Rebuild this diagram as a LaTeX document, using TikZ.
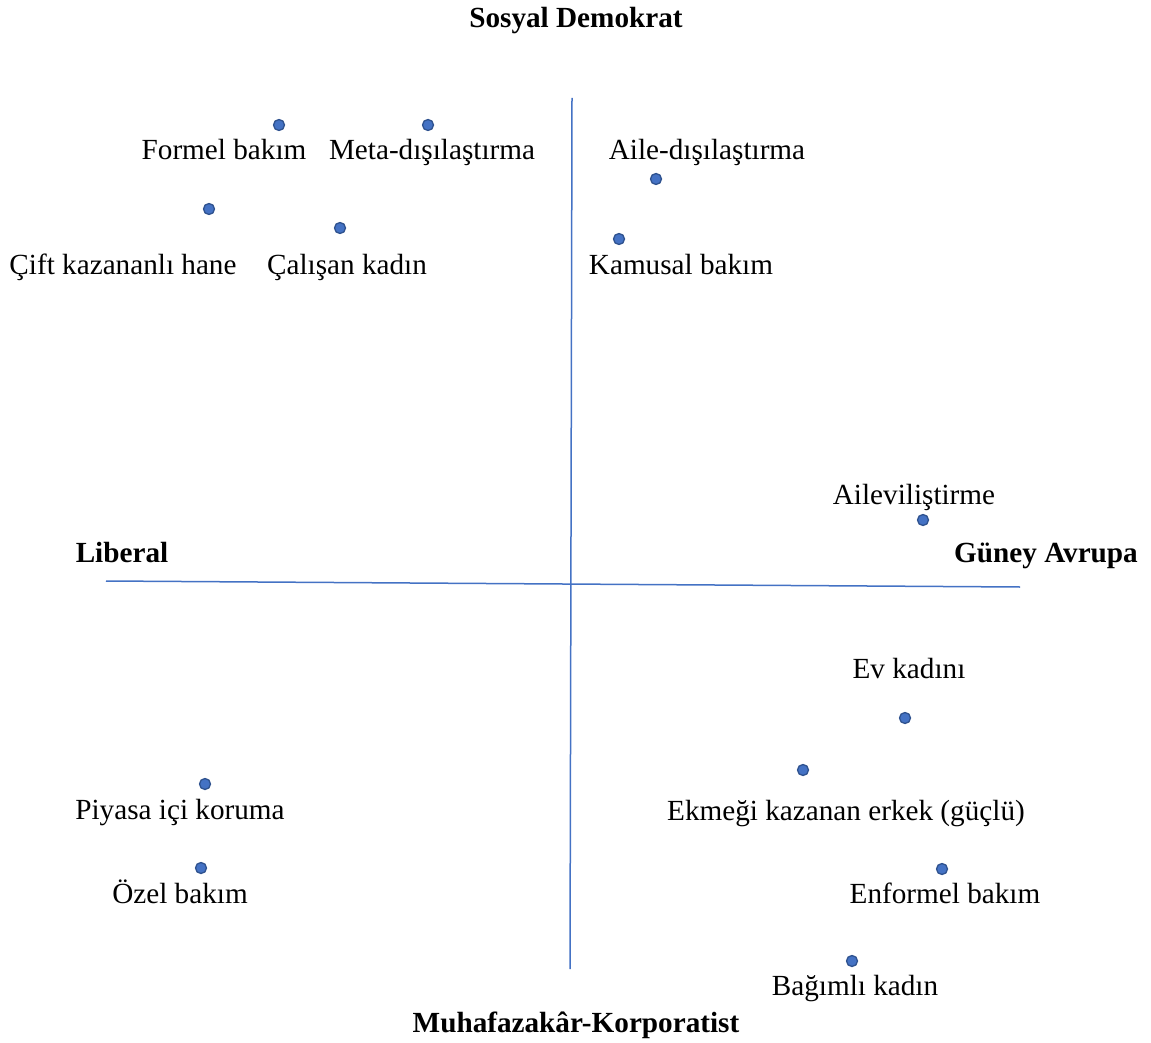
\documentclass[tikz,border=0pt]{standalone}
\usepackage{fontspec}
\setmainfont{Liberation Serif}
\definecolor{axisblue}{HTML}{4472C4}
\definecolor{dotfill}{HTML}{4472C4}
\definecolor{dotline}{HTML}{2F528F}
\begin{document}
\begin{tikzpicture}[x=1pt,y=-1pt,
  lbl/.style={anchor=base,inner sep=0pt,font=\fontsize{29.2}{34}\selectfont},
  axlbl/.style={anchor=base,inner sep=0pt,font=\fontsize{29.2}{34}\selectfont\bfseries},
  dot/.style={circle,fill=dotfill,draw=dotline,line width=1.3pt,minimum size=11pt,inner sep=0pt},
  axis/.style={draw=axisblue,line width=1.5pt}]
\useasboundingbox (0,0) rectangle (1151,1043);
% axes
\coordinate (hl) at (106,581);
\coordinate (hr) at (1020,587);
\coordinate (vt) at (572,98);
\coordinate (vb) at (570,969);
\draw[axis] (hl) -- (hr);
\draw[axis] (vt) -- (vb);
% axis labels
\node[axlbl] (sd) at (576,28) {Sosyal Demokrat};
\node[axlbl] (lib) at (122,562) {Liberal};
\node[axlbl] (ga) at (1046,562) {Güney Avrupa};
\node[axlbl] (mk) at (576,1032) {Muhafazakâr-Korporatist};
% dots
\node[dot] (d1) at (279,125) {};
\node[dot] (d2) at (428,125) {};
\node[dot] (d3) at (656,179) {};
\node[dot] (d4) at (209,209) {};
\node[dot] (d5) at (340,228) {};
\node[dot] (d6) at (619,239) {};
\node[dot] (d7) at (923,520) {};
\node[dot] (d8) at (905,718) {};
\node[dot] (d9) at (803,770) {};
\node[dot] (d10) at (205,784) {};
\node[dot] (d11) at (201,868) {};
\node[dot] (d12) at (942,869) {};
\node[dot] (d13) at (852,961) {};
% labels
\node[lbl] (l1) at (224,160) {Formel bakım};
\node[lbl] (l2) at (432,160) {Meta-dışılaştırma};
\node[lbl] (l3) at (707,160) {Aile-dışılaştırma};
\node[lbl] (l4) at (123,274) {Çift kazananlı hane};
\node[lbl] (l5) at (347,274) {Çalışan kadın};
\node[lbl] (l6) at (681,274) {Kamusal bakım};
\node[lbl] (l7) at (914,504) {Aileviliştirme};
\node[lbl] (l8) at (909,678) {Ev kadını};
\node[lbl] (l9) at (846,820) {Ekmeği kazanan erkek (güçlü)};
\node[lbl] (l10) at (180,819) {Piyasa içi koruma};
\node[lbl] (l11) at (180,903) {Özel bakım};
\node[lbl] (l12) at (945,903) {Enformel bakım};
\node[lbl] (l13) at (855,995) {Bağımlı kadın};
\end{tikzpicture}
\end{document}
